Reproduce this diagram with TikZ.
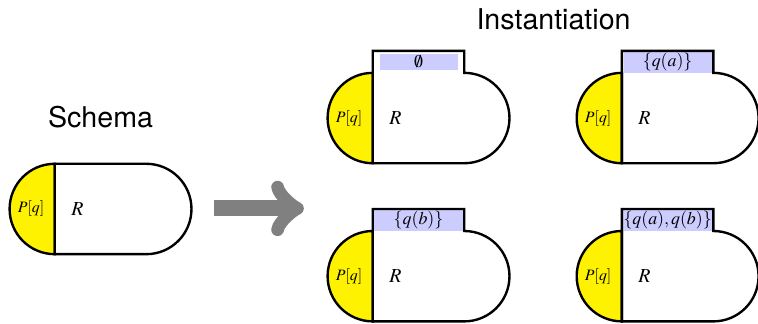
\documentclass[tikz,border=0pt]{standalone}
\usepackage{mathptmx}
\usepackage{fontspec}
\setsansfont{TeX Gyre Heros}
\usetikzlibrary{calc}

\begin{document}
\begin{tikzpicture}[
   clause/.style={very thick},
   head/.style={very thick, fill=yellow},
   title/.style={font=\sffamily\Large, anchor=base},
   tablabel/.style={fill=blue!20, font=\small, inner sep=1pt}]
   \useasboundingbox (0,0) rectangle (13.42,5.72);
   % schema
   \coordinate (s) at (0.97,1.22);
   \draw [head] (s) arc (-90:-270:0.8) -- cycle;
   \draw [clause] (s) -- ++(1.62,0) arc (-90:90:0.8) -- ++(-1.62,0) -- cycle;
   \node (sp) at ($(s)+(-0.42,0.8)$) {\footnotesize $P[q]$};
   \node (sr) at ($(s)+(0.4,0.8)$) {$R$};
   \node [title] (schema) at (1.78,3.47) {Schema};

   % arrow
   \coordinate (a1) at (3.79,2.03);
   \coordinate (a2) at (5.38,2.03);
   \draw [gray, line width=8pt, ->] (a1) -- (a2);

   % instances
   \node [title] (inst) at (9.80,5.19) {Instantiation};
   \foreach \x/\y/\lab/\labw/\labh [count=\i] in {6.60/2.83/{$\emptyset$}/1.38cm/0.27cm,
        11.01/2.83/{$\{q(a)\}$}/1.56cm/0.34cm,
        6.60/0.03/{$\{q(b)\}$}/1.56cm/0.34cm,
        11.01/0.03/{$\{q(a),q(b)\}$}/1.56cm/0.34cm} {
      \coordinate (c\i) at (\x,\y);
      \draw [head] (c\i) arc (-90:-270:0.8) -- cycle;
      \node [tablabel, minimum width=\labw, minimum height=\labh] (t\i) at ($(c\i)+(0.81,1.795)$) {\lab};
      \draw [clause] (c\i) -- ++(1.62,0) arc (-90:90:0.8) -- ++(0,0.39) -- ++(-1.62,0) -- cycle;
      \node (p\i) at ($(c\i)+(-0.42,0.8)$) {\footnotesize $P[q]$};
      \node (r\i) at ($(c\i)+(0.4,0.8)$) {$R$};
   }
\end{tikzpicture}
\end{document}
